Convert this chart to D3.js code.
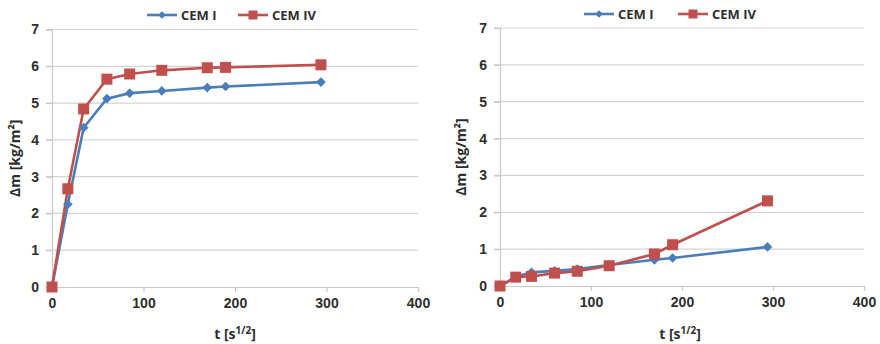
<!DOCTYPE html>
<html><head><meta charset="utf-8">
<script src="https://cdn.jsdelivr.net/npm/d3@7"></script>
<style>body{margin:0;background:#fff;} svg{display:block;font-family:"Open Sans","Liberation Sans",sans-serif;}</style>
</head><body><svg id="c" width="880" height="344"></svg>
<script>
const times = [0, 17.3, 34.6, 60, 84.9, 120, 169.7, 189.7, 293.9];
const seriesNames = ["CEM I", "CEM IV"];
const leftCEM1 = [0, 2.25, 4.33, 5.12, 5.27, 5.33, 5.42, 5.45, 5.57];
const leftCEM4 = [0, 2.67, 4.84, 5.65, 5.79, 5.89, 5.96, 5.97, 6.04];
const rightCEM1 = [0, 0.25, 0.37, 0.41, 0.46, 0.57, 0.71, 0.76, 1.06];
const rightCEM4 = [0, 0.24, 0.26, 0.35, 0.40, 0.55, 0.87, 1.12, 2.31];
const xTicks = [0, 100, 200, 300, 400];
const yTicks = [0, 1, 2, 3, 4, 5, 6, 7];
const colors = ["#4a7ebb", "#c0504d"];

const svg = d3.select("#c");

function panel(cfg, s1, s2) {
  const g = svg.append("g");
  const x = d3.scaleLinear().domain([0, 400]).range([cfg.x0, cfg.x1]);
  const y = d3.scaleLinear().domain([0, 7]).range([cfg.y0, cfg.y1]);
  g.selectAll(".grid").data(yTicks.filter(d => d > 0)).join("line")
    .attr("x1", cfg.x0 - 6).attr("x2", cfg.x1)
    .attr("y1", d => y(d)).attr("y2", d => y(d))
    .attr("stroke", "#d4d4d4").attr("stroke-width", 1.2);
  const ya = g.append("g").attr("transform", `translate(${cfg.x0},0)`)
    .call(d3.axisLeft(y).tickValues(yTicks).tickSize(6).tickPadding(7).tickFormat(d3.format("d")));
  ya.select(".domain").attr("stroke", "#c8c8c8").attr("stroke-width", 1.2);
  ya.selectAll(".tick line").attr("stroke", "#c8c8c8").attr("stroke-width", 1.2);
  const xa = g.append("g").attr("transform", `translate(0,${cfg.y0})`)
    .call(d3.axisBottom(x).tickValues(xTicks).tickSize(5).tickPadding(6).tickFormat(d3.format("d")));
  xa.select(".domain").attr("stroke", "#c8c8c8").attr("stroke-width", 1.2);
  xa.selectAll(".tick line").attr("stroke", "#c8c8c8").attr("stroke-width", 1.2);
  g.selectAll(".tick text").attr("fill", "#2e2e2e").attr("font-size", 14).attr("font-weight", 600);

  const line = d3.line().x((d, i) => x(times[i])).y(d => y(d));
  [s1, s2].forEach((vals, k) => {
    g.append("path").datum(vals).attr("d", line)
      .attr("fill", "none").attr("stroke", colors[k]).attr("stroke-width", 2.6);
  });
  g.selectAll(".dia").data(s1).join("path")
    .attr("d", d3.symbol().type(d3.symbolDiamond2).size(60))
    .attr("transform", (d, i) => `translate(${x(times[i])},${y(d)})`)
    .attr("fill", colors[0]);
  g.selectAll(".sq").data(s2).join("rect")
    .attr("x", (d, i) => x(times[i]) - 5.5).attr("y", d => y(d) - 5.5)
    .attr("width", 11).attr("height", 11).attr("fill", colors[1]);

  g.append("text").attr("transform", `translate(${cfg.ylx},${(cfg.y0 + cfg.y1) / 2}) rotate(-90)`)
    .attr("text-anchor", "middle").attr("font-size", 14).attr("font-weight", 700).attr("fill", "#2e2e2e")
    .text("Δm [kg/m²]");
  const xt = g.append("text").attr("x", cfg.xtx).attr("y", 339)
    .attr("text-anchor", "middle").attr("font-size", 14).attr("font-weight", 700).attr("fill", "#2e2e2e");
  xt.append("tspan").text("t [s");
  xt.append("tspan").attr("dy", -5).attr("font-size", 10).text("1/2");
  xt.append("tspan").attr("dy", 5).text("]");

  const lg = g.append("g");
  cfg.leg.forEach((lx, k) => {
    lg.append("line").attr("x1", lx).attr("x2", lx + 30).attr("y1", cfg.ly).attr("y2", cfg.ly)
      .attr("stroke", colors[k]).attr("stroke-width", 2.6);
    if (k === 0) {
      lg.append("path").attr("d", d3.symbol().type(d3.symbolDiamond2).size(38))
        .attr("transform", `translate(${lx + 15},${cfg.ly})`).attr("fill", colors[0]);
    } else {
      lg.append("rect").attr("x", lx + 15 - 4.5).attr("y", cfg.ly - 4.5).attr("width", 9).attr("height", 9)
        .attr("fill", colors[1]);
    }
    lg.append("text").attr("x", lx + 34).attr("y", cfg.ly + 5).attr("font-size", 13).attr("font-weight", 700)
      .attr("fill", "#2e2e2e").text(seriesNames[k]);
  });
}

panel({x0: 52, x1: 418, y0: 287, y1: 29.5, ylx: 20, xtx: 235, leg: [147, 238], ly: 15}, leftCEM1, leftCEM4);
panel({x0: 500, x1: 864, y0: 286, y1: 28, ylx: 466, xtx: 680, leg: [584, 678], ly: 14}, rightCEM1, rightCEM4);
</script></body></html>
